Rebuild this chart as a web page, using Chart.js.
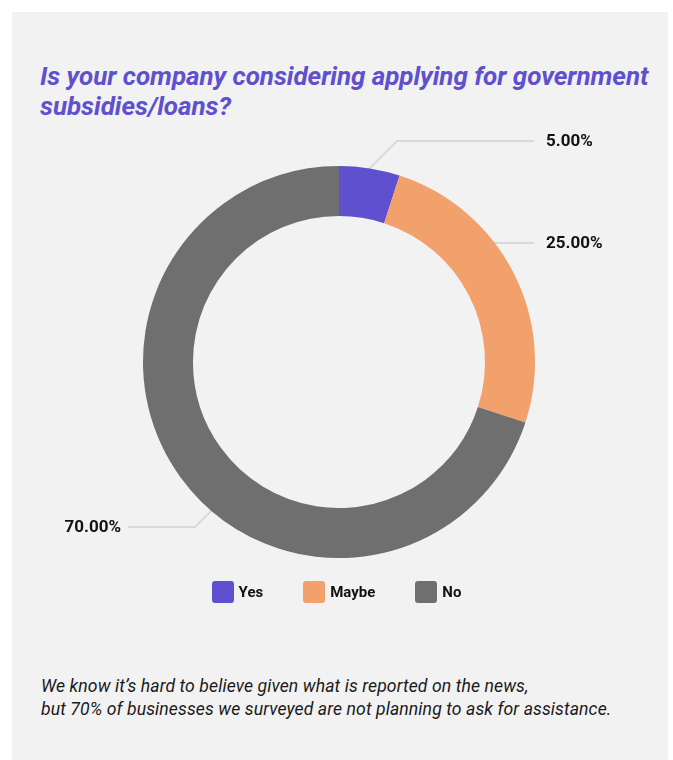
<!DOCTYPE html>
<html>
<head>
<meta charset="utf-8">
<script src="https://cdn.jsdelivr.net/npm/chart.js@4/dist/chart.umd.min.js"></script>
<style>
  html, body { margin: 0; padding: 0; background: #ffffff; }
  body { width: 673px; height: 760px; position: relative; overflow: hidden; font-family: Roboto, "Noto Sans", sans-serif; }
  .panel { position: absolute; left: 12px; top: 12px; width: 656px; height: 760px; background: #f2f2f2; }
  .title { position: absolute; left: 40px; top: 61px; margin: 0; font-size: 26px; line-height: 30px; font-weight: 700; font-style: italic; color: #5e50cf; letter-spacing: -0.05px; white-space: nowrap; }
  .chart-box { position: absolute; left: 0; top: 130px; width: 673px; height: 460px; }
  .legend { position: absolute; left: 0; top: 581px; width: 673px; display: flex; justify-content: center; gap: 40px; font-size: 15px; font-weight: 700; color: #111; }
  .legend span { display: flex; align-items: center; height: 22px; }
  .legend i { display: inline-block; width: 22px; height: 22px; border-radius: 3px; margin-right: 5px; }
  .note { position: absolute; left: 41px; top: 675px; margin: 0; font-size: 17.6px; line-height: 23px; font-style: italic; color: #1a1a1a; letter-spacing: 0.1px; white-space: nowrap; }
</style>
</head>
<body>
<div class="panel"></div>
<h1 class="title">Is your company considering applying for government<br>subsidies/loans?</h1>
<div class="chart-box"><canvas id="donut"></canvas></div>
<div class="legend" id="legend"></div>
<p class="note">We know it’s hard to believe given what is reported on the news,<br>but 70% of businesses we surveyed are not planning to ask for assistance.</p>

<script>
// ── Data ──────────────────────────────────────────────────────────────
const answers = ['Yes', 'Maybe', 'No'];
const shares = [5, 25, 70];
const sliceColors = ['#5e50cf', '#f2a06c', '#6f6f6f'];

// callout placement relative to the donut centre (dy of label row, dx of elbow, side)
const callouts = [
    { dy: -221, elbow: 58, side: 'right' },
    { dy: -119, elbow: null, side: 'right' },
    { dy: 165, elbow: -144, side: 'left' }
];

// ── Leader lines + percentage labels ─────────────────────────────────
const calloutPlugin = {
    id: 'callouts',
    beforeDatasetsDraw(chart) {
        const arc = chart.getDatasetMeta(0).data[0];
        if (!arc) return;
        const { x: cx, y: cy, outerRadius: R } = arc;
        const ctx = chart.ctx;
        ctx.save();
        ctx.strokeStyle = '#d9d9d9';
        ctx.lineWidth = 2;
        callouts.forEach(c => {
            const y = cy + c.dy;
            const lineEnd = c.side === 'right' ? cx + 195 : cx - 211;
            let ex;
            if (c.elbow === null) {
                ex = cx + Math.sqrt(R * R - c.dy * c.dy) - 4;
            } else {
                ex = cx + c.elbow;
            }
            ctx.beginPath();
            ctx.moveTo(lineEnd, y);
            ctx.lineTo(ex, y);
            if (c.elbow !== null) {
                // run at 45° toward the ring until it meets the outer edge
                const sx = c.elbow > 0 ? -1 : 1;
                const sy = c.dy < 0 ? 1 : -1;
                let px = ex, py = y;
                for (let i = 0; i < 200; i++) {
                    if (Math.hypot(px - cx, py - cy) <= R - 2) break;
                    px += sx; py += sy;
                }
                ctx.lineTo(px, py);
            }
            ctx.stroke();
        });
        ctx.restore();
    },
    afterDatasetsDraw(chart) {
        const arc = chart.getDatasetMeta(0).data[0];
        if (!arc) return;
        const { x: cx, y: cy } = arc;
        const ctx = chart.ctx;
        ctx.save();
        ctx.font = 'bold 17px Roboto';
        ctx.fillStyle = '#111111';
        ctx.textBaseline = 'middle';
        callouts.forEach((c, i) => {
            const txt = shares[i].toFixed(2) + '%';
            if (c.side === 'right') {
                ctx.textAlign = 'left';
                ctx.fillText(txt, cx + 207, cy + c.dy + 1);
            } else {
                ctx.textAlign = 'right';
                ctx.fillText(txt, cx - 218, cy + c.dy + 1);
            }
        });
        ctx.restore();
    }
};

new Chart(document.getElementById('donut'), {
    type: 'doughnut',
    data: {
        labels: answers,
        datasets: [{
            data: shares,
            backgroundColor: sliceColors,
            borderWidth: 0,
            hoverOffset: 0
        }]
    },
    options: {
        responsive: true,
        maintainAspectRatio: false,
        animation: false,
        cutout: '74.5%',
        layout: { padding: { top: 36, bottom: 32, left: 5, right: 0 } },
        plugins: {
            legend: { display: false },
            tooltip: { enabled: false }
        }
    },
    plugins: [calloutPlugin]
});

// ── Legend ────────────────────────────────────────────────────────────
const legendEl = document.getElementById('legend');
answers.forEach((name, i) => {
    const item = document.createElement('span');
    item.innerHTML = `<i style="background:${sliceColors[i]}"></i>${name}`;
    legendEl.appendChild(item);
});
</script>
</body>
</html>
